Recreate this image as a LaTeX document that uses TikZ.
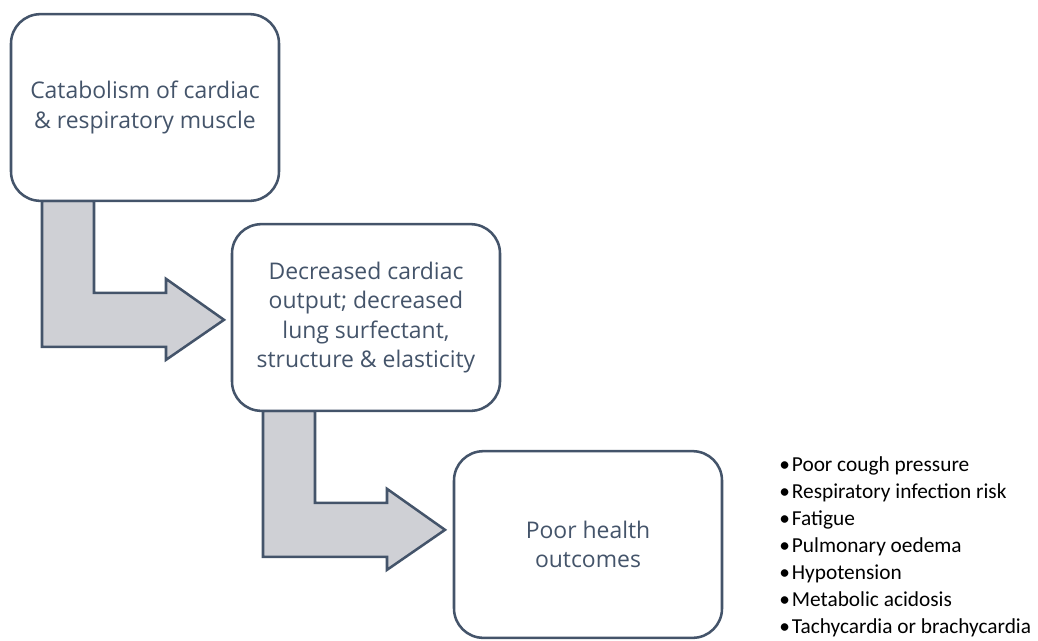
\documentclass[tikz,border=0pt]{standalone}
\usepackage{fontspec}
\setmainfont{Open Sans}
\newfontfamily\listfont{Carlito}
\usetikzlibrary{calc,positioning,backgrounds}
\definecolor{slate}{HTML}{44546A}
\definecolor{arrowgrey}{RGB}{207,208,213}
\tikzset{stage/.style={draw=slate,line width=1.9pt,rounded corners=22pt,fill=white,outer sep=0pt,
           minimum width=201pt,minimum height=140pt,align=center,text=slate,
           font=\fontsize{17.2pt}{22pt}\selectfont},
         bent/.style={draw=slate,line width=1.9pt,fill=arrowgrey,line join=miter},
         effects/.style={align=left,inner sep=0pt,font=\listfont\fontsize{16pt}{20.25pt}\selectfont}}

\begin{document}
\begin{tikzpicture}[x=0.75pt,y=-0.75pt]
\useasboundingbox (0,0) rectangle (1038,640);
\node[stage] (stage1) at (145,107.5) {Catabolism of cardiac\\\& respiratory muscle};
\node[stage] (stage2) at (366,317.5) {Decreased cardiac\\output; decreased\\lung surfectant,\\structure \& elasticity};
\node[stage] (stage3) at (588,544.5) {Poor health\\outcomes};
\node[effects,right=42.75pt of stage3,yshift=-2pt] (risks) {%
  \textbullet\hspace{1.5pt}Poor cough pressure\\
  \textbullet\hspace{1.5pt}Respiratory infection risk\\
  \textbullet\hspace{1.5pt}Fatigue\\
  \textbullet\hspace{1.5pt}Pulmonary oedema\\
  \textbullet\hspace{1.5pt}Hypotension\\
  \textbullet\hspace{1.5pt}Metabolic acidosis\\
  \textbullet\hspace{1.5pt}Tachycardia or brachycardia};
% bent arrows go behind the boxes
\begin{scope}[on background layer]
\foreach \from in {stage1,stage2}
  \draw[bent] ($(\from.south west)+(31,0)$) -- ++(0,146) -- ++(124,0) -- ++(0,13)
    -- ++(58,-40) -- ++(-58,-41) -- ++(0,14) -- ++(-72,0) -- ++(0,-92) -- cycle;
\end{scope}
\end{tikzpicture}
\end{document}
